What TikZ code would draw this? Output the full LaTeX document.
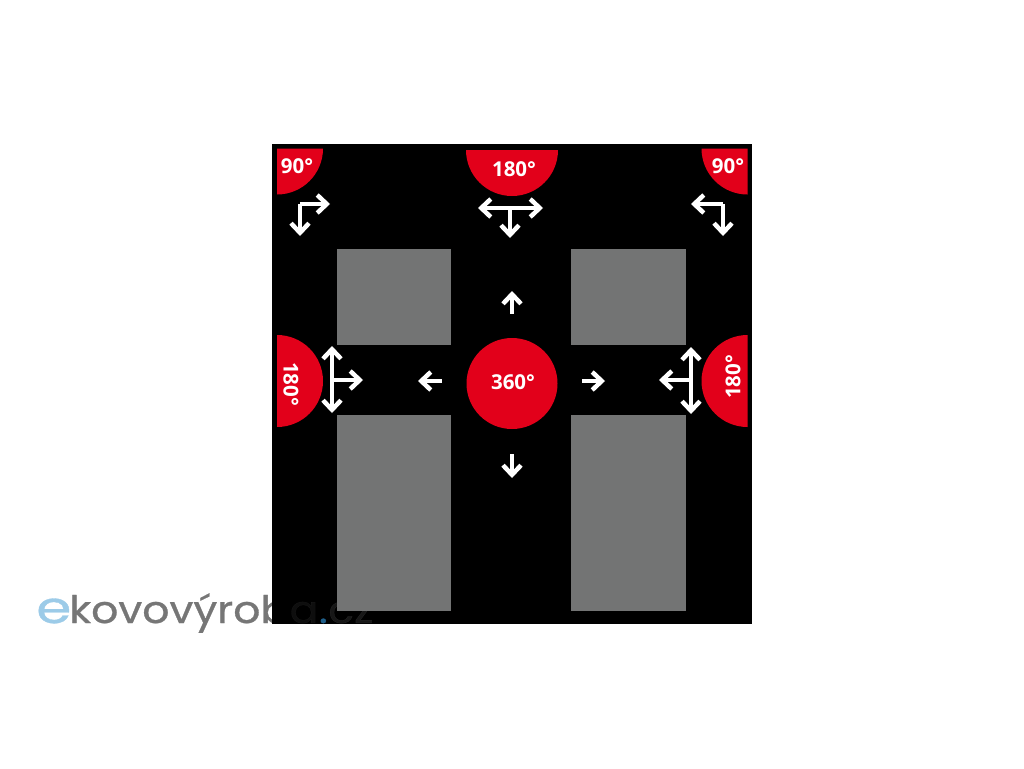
\documentclass[tikz,border=0pt]{standalone}
\usepackage{fontspec}
\setmainfont{Open Sans}
\newfontfamily\logofont[FakeBold=0.7]{Poppins}
\usepackage{tikz}
\usetikzlibrary{arrows.meta}
\definecolor{signred}{HTML}{E2001A}
\definecolor{floorgray}{HTML}{737474}
\definecolor{logoblue}{HTML}{9CCBE8}
\definecolor{logogray}{HTML}{767676}
\definecolor{logodot}{HTML}{1F5F8A}

\begin{document}
\begin{tikzpicture}[
    x=1pt, y=-1pt,
    >={Straight Barb[length=9.5pt,width=18pt,line width=4.5pt]},
    arw/.style={<-, draw=white, line width=4.5pt},
    stem/.style={draw=white, line width=3.5pt},
    zone/.style={fill=signred, draw=none},
    block/.style={fill=floorgray, draw=none},
    angle/.style={text=white, font=\fontsize{20.5}{20}\selectfont\bfseries, inner sep=0pt},
    logo/.style={font=\logofont\fontsize{38}{38}\selectfont, inner sep=0pt, anchor=base west, text=logogray, xscale=1.12},
    ghost/.style={logo, opacity=0.12}]
  \useasboundingbox (0,0) rectangle (1024,768);
  % logo sits under the black square
  \node[logo, text=logoblue, xscale=1.15, font=\logofont\fontsize{44}{44}\selectfont] (loge) at (36,623) {e};
  \node[logo] (logk) at (69,623) {kovovýrob};
  \fill[black] (272,144) rectangle (752,624);
  % blocks
  \fill[block] (336.5,248.5) rectangle (451,345);
  \fill[block] (571,248.5) rectangle (686,345);
  \fill[block] (336.5,414.5) rectangle (451,611);
  \fill[block] (571,414.5) rectangle (686,611);
  \node[ghost] (loga) at (logk.base east) {a};
  \node[logo, text=logodot] (logd) at (loga.base east) {.};
  \node[ghost, opacity=0.2] (logc) at (logd.base east) {cz};
  % red zones
  \fill[zone] (277,148.5) -- ++(46,0) arc[start angle=0, end angle=-90, radius=46pt] -- cycle;
  \fill[zone] (747.5,148.5) -- ++(-46,0) arc[start angle=180, end angle=270, radius=46pt] -- cycle;
  \fill[zone] (466,150) arc[start angle=180, end angle=360, radius=46pt] -- cycle;
  \fill[zone] (277,335) arc[start angle=90, end angle=-90, radius=46pt] -- cycle;
  \fill[zone] (747.5,335) arc[start angle=90, end angle=270, radius=46pt] -- cycle;
  \fill[zone] (512,383.5) circle[radius=45.5pt];
  \node[angle] (tl) at (297,166) {90°};
  \node[angle] (tr) at (728,166) {90°};
  \node[angle] (tc) at (514,169) {180°};
  \node[angle, rotate=-90] (ml) at (291,384) {180°};
  \node[angle, rotate=90] (mr) at (733,377) {180°};
  \node[angle] (mc) at (513,382) {360°};
  % arrows
  \coordinate (tlc) at (300,204);
  \draw[stem] (tlc) -- (312,204);
  \draw[stem] (tlc) -- (300,220);
  \draw[arw] (330,204) -- (312,204);
  \draw[arw] (300,236) -- (300,220);
  \coordinate (trc) at (723,204);
  \draw[stem] (trc) -- (710,204);
  \draw[stem] (trc) -- (723,220);
  \draw[arw] (691,204) -- (710,204);
  \draw[arw] (723,236) -- (723,220);
  \draw[arw] (478,208) -- (495,208);
  \draw[arw] (543,208) -- (526,208);
  \draw[stem] (495,208) -- (526,208);
  \draw[stem] (510,208) -- (510,222);
  \draw[arw] (510,238) -- (510,222);
  \draw[arw] (332,346) -- (332,362);
  \draw[arw] (332,413) -- (332,397);
  \draw[stem] (332,362) -- (332,397);
  \draw[stem] (332,380) -- (347,380);
  \draw[arw] (363,380) -- (347,380);
  \draw[arw] (691,347) -- (691,363);
  \draw[arw] (691,414) -- (691,398);
  \draw[stem] (691,363) -- (691,398);
  \draw[stem] (691,380) -- (675,380);
  \draw[arw] (659,380) -- (675,380);
  \draw[arw] (512,291) -- (512,314);
  \draw[arw] (512,478) -- (512,454);
  \draw[arw] (418,381) -- (442,381);
  \draw[arw] (605,381) -- (582,381);
\end{tikzpicture}
\end{document}
